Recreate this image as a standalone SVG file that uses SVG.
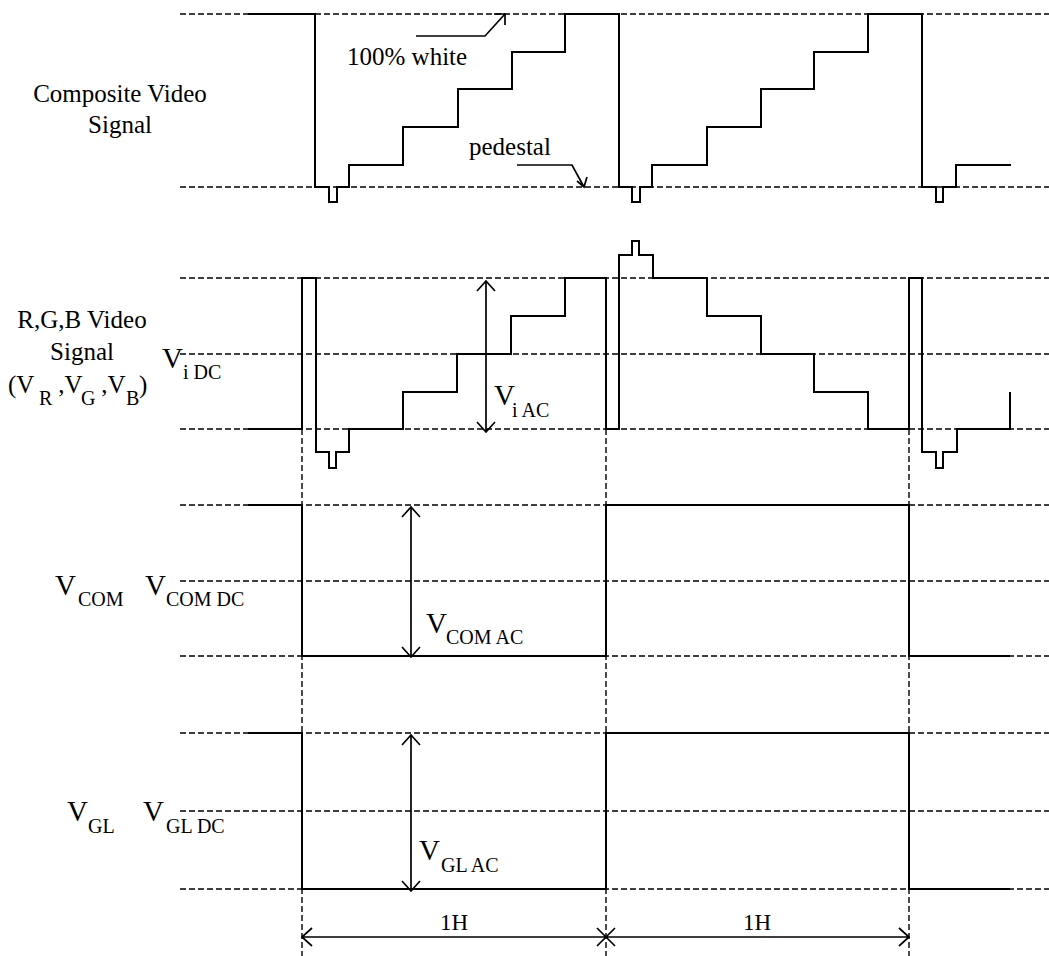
<svg xmlns="http://www.w3.org/2000/svg" width="1049" height="956" viewBox="0 0 1049 956">
<style>
  .t { font-family: "Liberation Serif", "Times New Roman", serif; fill: #000; }
  .lbl { font-size: 25px; }
  .big { font-size: 29px; }
  .sub { font-size: 20px; }
  .dash { fill: none; stroke: #000; stroke-width: 1.4; stroke-dasharray: 6 3; }
  .sig { fill: none; stroke: #000; stroke-width: 2; stroke-linejoin: miter; }
  .arr { fill: none; stroke: #000; stroke-width: 1.7; }
</style>
<rect width="1049" height="956" fill="#fff"/>

<g id="grid">
  <path class="dash" d="M180,14 H1049 M180,187 H1049 M180,278 H1049 M180,354 H1049 M180,429 H1049 M180,505 H1049 M180,581 H1049 M180,656 H1049 M180,733 H1049 M180,811 H1049 M180,889 H1049"/>
  <path class="dash" d="M302,429 V956 M606,429 V956 M909,429 V956"/>
</g>

<g id="composite-video">
  <path class="sig" d="M248,14 H315 V187 H329 V202 H337 V187 H349 V165 H403 V127 H458 V89 H512 V52 H565 V14 H619 V187 H632 V202 H640 V187 H652 V165 H707 V127 H761 V89 H814 V52 H868 V14 H922 V187 H936 V202 H943 V187 H956 V165 H1011"/>
  <text class="t lbl" x="120" y="102" text-anchor="middle">Composite Video</text>
  <text class="t lbl" x="120" y="133" text-anchor="middle">Signal</text>
  <text class="t lbl" x="347" y="65">100% white</text>
  <text class="t lbl" x="469" y="155">pedestal</text>
</g>

<g id="rgb-video">
  <path class="sig" d="M248,429 H302 V278 H316 V452 H329 V468 H336 V452 H349 V429 H403 V392 H457 V354 H511 V316 H565 V278 H606 V429 H619 V255 H632 V241 H639 V255 H653 V278 H707 V316 H761 V354 H814 V392 H868 V429 H909 V278 H922 V452 H936 V468 H943 V452 H957 V429 H1010 V392"/>
  <text class="t lbl" x="82" y="328" text-anchor="middle">R,G,B Video</text>
  <text class="t lbl" x="82" y="360" text-anchor="middle">Signal</text>
  <text class="t lbl" y="393"><tspan x="8">(V</tspan><tspan class="sub" x="39" y="405">R</tspan><tspan x="52" y="393"> ,V</tspan><tspan class="sub" x="81" y="405">G</tspan><tspan x="95" y="393"> ,V</tspan><tspan class="sub" x="126" y="405">B</tspan><tspan x="139" y="393">)</tspan></text>
  <text class="t big" x="162" y="368">V</text>
  <text class="t sub" x="183" y="379">i DC</text>
  <text class="t big" x="494" y="405">V</text>
  <text class="t sub" x="512" y="417">i AC</text>
</g>

<g id="vcom">
  <path class="sig" d="M248,505 H302 V656 H606 V505 H909 V656 H1010"/>
  <text class="t big" x="55" y="595">V</text>
  <text class="t sub" x="78" y="606">COM</text>
  <text class="t big" x="145" y="595">V</text>
  <text class="t sub" x="166" y="606">COM DC</text>
  <text class="t big" x="426" y="633">V</text>
  <text class="t sub" x="446" y="644">COM AC</text>
</g>

<g id="vgl">
  <path class="sig" d="M248,733 H302 V889 H606 V733 H909 V889 H1010"/>
  <text class="t big" x="67" y="821">V</text>
  <text class="t sub" x="88" y="833">GL</text>
  <text class="t big" x="143" y="821">V</text>
  <text class="t sub" x="166" y="833">GL DC</text>
  <text class="t big" x="419" y="860">V</text>
  <text class="t sub" x="441" y="872">GL AC</text>
</g>

<g id="timing">
  <text class="t" style="font-size:23px" x="454" y="930" text-anchor="middle">1H</text>
  <text class="t" style="font-size:23px" x="757" y="930" text-anchor="middle">1H</text>
</g>

<g id="connectors">
  <path class="arr" d="M416,36 H485 L505,14 M494,14 H505 V25"/>
  <path class="arr" d="M517,165 H572 L584,187 M577,181 L584,187 L587,177"/>
  <path class="arr" d="M486,281 V432 M477,291 L486,281 L495,291 M477,422 L486,432 L495,422"/>
  <path class="arr" d="M411,507 V657 M402,517 L411,507 L420,517 M402,647 L411,657 L420,647"/>
  <path class="arr" d="M411,735 V891 M402,745 L411,735 L420,745 M402,881 L411,891 L420,881"/>
  <path class="arr" d="M302,937 H909 M312,928 L302,937 L312,946 M597,928 L615,946 M615,928 L597,946 M899,928 L909,937 L899,946"/>
</g>
</svg>
